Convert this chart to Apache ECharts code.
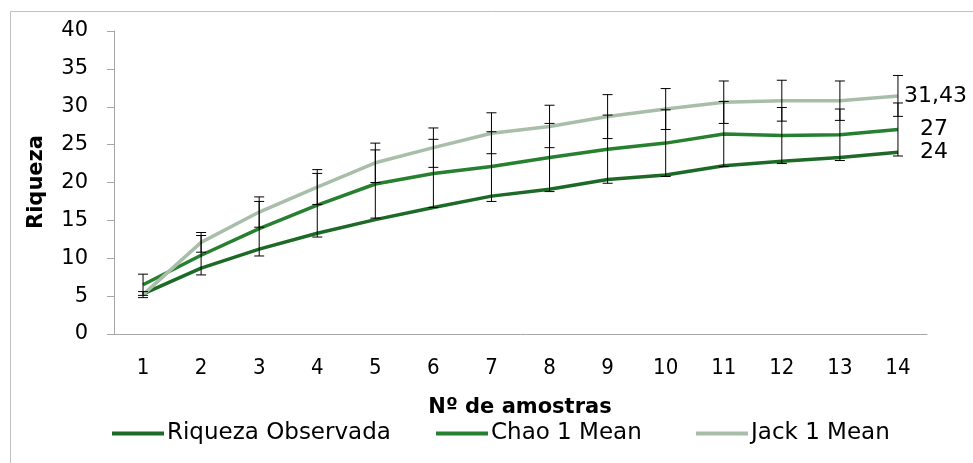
<!DOCTYPE html>
<html><head><meta charset="utf-8">
<script src="https://cdn.jsdelivr.net/npm/echarts@6/dist/echarts.min.js"></script>
<style>html,body{margin:0;padding:0;background:#fff}#c{width:973px;height:463px}</style>
</head><body><div id="c"></div>
<script>
const categories = ['1','2','3','4','5','6','7','8','9','10','11','12','13','14'];
const observed = [5.3, 8.7, 11.2, 13.3, 15.1, 16.7, 18.2, 19.1, 20.4, 21.0, 22.2, 22.8, 23.3, 24.0];
const chao     = [6.5, 10.4, 13.9, 17.0, 19.8, 21.2, 22.1, 23.3, 24.4, 25.2, 26.4, 26.2, 26.3, 27.0];
const jack     = [5.2, 12.1, 16.1, 19.4, 22.6, 24.6, 26.5, 27.4, 28.7, 29.7, 30.6, 30.8, 30.8, 31.43];
const chaoErr  = [1.4, 2.6, 3.6, 4.2, 4.5, 4.5, 4.6, 4.5, 4.5, 4.4, 4.3, 3.7, 3.4, 3.5];
const jackErr  = [0.4, 1.3, 2.0, 2.3, 2.6, 2.6, 2.7, 2.8, 2.9, 2.7, 2.8, 2.7, 2.6, 2.7];
const yTicks = {min: 0, max: 40, interval: 5};
const names = ['Riqueza Observada', 'Chao 1 Mean', 'Jack 1 Mean'];

const dv = "'DejaVu Sans', sans-serif";
const dvc = "'DejaVu Sans Condensed', 'DejaVu Sans', sans-serif";
const colors = ['#1d6a27', '#26802f', '#a9bea9'];

function errData(vals, errs) {
  return vals.map((v, i) => [i, v - errs[i], v + errs[i]]);
}
function errRender(params, api) {
  const lo = api.coord([api.value(0), api.value(1)]);
  const hi = api.coord([api.value(0), api.value(2)]);
  const w = 5;
  const st = {stroke: '#000', lineWidth: 1};
  return {type: 'group', children: [
    {type: 'line', shape: {x1: lo[0], y1: lo[1], x2: hi[0], y2: hi[1]}, style: st},
    {type: 'line', shape: {x1: lo[0]-w, y1: lo[1], x2: lo[0]+w, y2: lo[1]}, style: st},
    {type: 'line', shape: {x1: hi[0]-w, y1: hi[1], x2: hi[0]+w, y2: hi[1]}, style: st}
  ]};
}
function fmt(v) { return String(v).replace('.', ','); }
const legendLefts = [107, 431, 691];
const legendText = {color: '#000', fontSize: 23, fontFamily: dv, padding: [0,0,0,-2]};

const chart = echarts.init(document.getElementById('c'), null, {renderer: 'canvas'});
chart.setOption({
  animation: false,
  backgroundColor: '#fff',
  grid: {left: 114, right: 46, top: 31, bottom: 129, containLabel: false},
  xAxis: {
    type: 'category', data: categories, boundaryGap: true,
    axisLine: {show: true, lineStyle: {color: '#a6a6a6', width: 1}},
    axisTick: {show: false},
    axisLabel: {color: '#000', fontSize: 22, fontFamily: dvc, margin: 23}
  },
  yAxis: {
    type: 'value', min: yTicks.min, max: yTicks.max, interval: yTicks.interval,
    splitLine: {show: false},
    axisLine: {show: true, lineStyle: {color: '#a6a6a6', width: 1}},
    axisTick: {show: true, length: 7, lineStyle: {color: '#a6a6a6'}},
    axisLabel: {color: '#000', fontSize: 21, fontFamily: dv, margin: 26}
  },
  legend: names.map((n, i) => ({
    data: [n], left: legendLefts[i], top: 417, itemWidth: 52, itemHeight: 4,
    icon: 'rect', textStyle: legendText
  })),
  graphic: [
    {type: 'rect', shape: {x: 10.5, y: 11.5, width: 1200, height: 800}, style: {fill: 'none', stroke: '#c0c0c0', lineWidth: 1}, silent: true, z: -1},
    {type: 'text', x: 37, y: 182, rotation: Math.PI/2, style: {text: 'Riqueza', fontSize: 21, fontWeight: 'bold', fontFamily: dv, fill: '#000', align: 'center', verticalAlign: 'middle'}},
    {type: 'text', x: 520, y: 408, style: {text: 'Nº de amostras', fontSize: 21, fontWeight: 'bold', fontFamily: dv, fill: '#000', align: 'center', verticalAlign: 'middle'}}
  ],
  series: [
    {name: names[0], type: 'line', data: observed, symbol: 'none', lineStyle: {color: colors[0], width: 3.5}, itemStyle: {color: colors[0]}, z: 3,
     endLabel: {show: true, formatter: p => fmt(p.value), distance: 22, fontSize: 22, fontFamily: dv, color: '#000'}},
    {name: names[1], type: 'line', data: chao, symbol: 'none', lineStyle: {color: colors[1], width: 3.5}, itemStyle: {color: colors[1]}, z: 3,
     endLabel: {show: true, formatter: p => fmt(p.value), distance: 22, fontSize: 22, fontFamily: dv, color: '#000'}},
    {name: names[2], type: 'line', data: jack, symbol: 'none', lineStyle: {color: colors[2], width: 3.5}, itemStyle: {color: colors[2]}, z: 3,
     endLabel: {show: true, formatter: p => fmt(p.value), distance: 6, fontSize: 22, fontFamily: dv, color: '#000'}},
    {name: 'errChao', type: 'custom', data: errData(chao, chaoErr), renderItem: errRender, z: 4, silent: true},
    {name: 'errJack', type: 'custom', data: errData(jack, jackErr), renderItem: errRender, z: 4, silent: true}
  ]
});
</script></body></html>
